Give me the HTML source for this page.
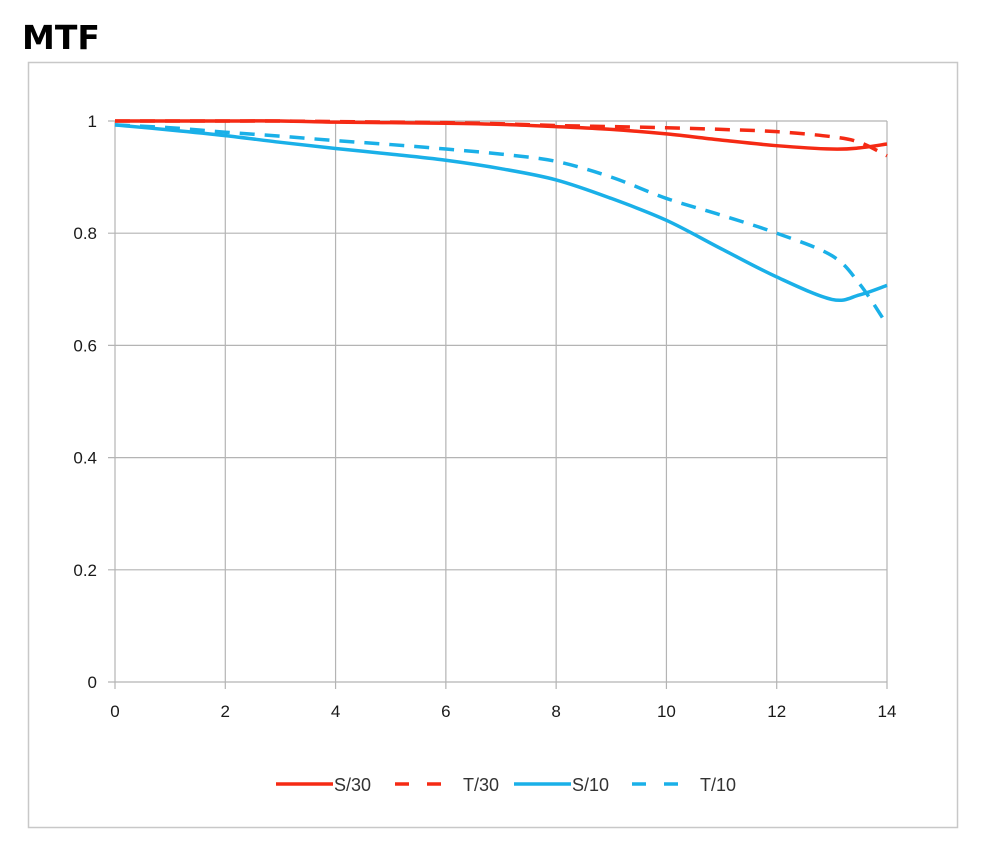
<!DOCTYPE html>
<html><head><meta charset="utf-8"><style>
body{margin:0;background:#fff;width:1000px;height:860px;overflow:hidden;font-family:"Liberation Sans",sans-serif}
</style></head><body>
<svg width="1000" height="860">
<text x="22" y="49" font-size="33" font-weight="bold" font-family="'DejaVu Sans',sans-serif" fill="#000">MTF</text>
<rect x="28.5" y="62.5" width="929" height="765" fill="#fff" stroke="#c8c8c8" stroke-width="1.5"/>
<g id="grid"></g><g id="series"></g><g id="legend"></g>
</svg>
<script>
const xTicks=[0,2,4,6,8,10,12,14];
const yTicks=[0,0.2,0.4,0.6,0.8,1];
const yTickLabels=["0","0.2","0.4","0.6","0.8","1"];
const xs=[0,1,2,3,4,5,6,7,8,9,10,11,12,13,13.5,14];
const s30=[1,1,1,1,0.998,0.997,0.996,0.994,0.99,0.985,0.977,0.966,0.956,0.95,0.952,0.959];
const t30=[1,1,1,1,0.999,0.998,0.997,0.995,0.992,0.99,0.988,0.985,0.981,0.972,0.962,0.938];
const s10=[0.993,0.984,0.974,0.962,0.951,0.941,0.93,0.915,0.895,0.862,0.823,0.772,0.722,0.682,0.69,0.707];
const t10=[0.993,0.988,0.98,0.973,0.965,0.958,0.95,0.941,0.928,0.9,0.862,0.832,0.8,0.76,0.71,0.637];
const NS="http://www.w3.org/2000/svg";
const X=v=>115+v*(772/14), Y=v=>682-v*561;
function mk(t,a,p){const e=document.createElementNS(NS,t);for(const k in a)e.setAttribute(k,a[k]);p.appendChild(e);return e;}
const g=document.getElementById('grid');
yTicks.forEach((t,i)=>{
 const l=mk('line',{x1:108,x2:887,y1:Y(t),y2:Y(t),stroke:'#b4b4b4','stroke-width':1.2},g);
 
 
 const tx=mk('text',{x:97,y:Y(t)+6,'text-anchor':'end','font-size':17,fill:'#1a1a1a'},g);
 tx.textContent=yTickLabels[i];
 
 
});
xTicks.forEach(t=>{
 const l=mk('line',{x1:X(t),x2:X(t),y1:121,y2:689,stroke:'#b4b4b4','stroke-width':1.2},g);
 
 
 const tx=mk('text',{x:X(t),y:717,'text-anchor':'middle','font-size':17,fill:'#1a1a1a'},g);
 tx.textContent=String(t);
 
 
});
function path(ys){
 const p=xs.map((x,i)=>[X(x),Y(ys[i])]);
 let d='M'+p[0][0]+','+p[0][1];
 for(let i=0;i<p.length-1;i++){
  const p0=p[Math.max(i-1,0)],p1=p[i],p2=p[i+1],p3=p[Math.min(i+2,p.length-1)];
  const c1=[p1[0]+(p2[0]-p0[0])/6,p1[1]+(p2[1]-p0[1])/6],c2=[p2[0]-(p3[0]-p1[0])/6,p2[1]-(p3[1]-p1[1])/6];
  d+=`C${c1[0]},${c1[1]} ${c2[0]},${c2[1]} ${p2[0]},${p2[1]}`;
 }
 return d;
}
const sg=document.getElementById('series');
const defs=[[t10,'#1ab0e8','15 10','series-t10'],[s10,'#1ab0e8','','series-s10'],[t30,'#f52a14','15 10','series-t30'],[s30,'#f52a14','','series-s30']];
defs.forEach(d=>{
 const e=mk('path',{d:path(d[0]),fill:'none',stroke:d[1],'stroke-width':3.5,'stroke-dasharray':d[2]||'none'},sg);
 
 
});
const lg=document.getElementById('legend');
const le=[[276,'#f52a14','','S/30','legend-s30'],[395,'#f52a14','14 18','T/30','legend-t30'],[514,'#1ab0e8','','S/10','legend-s10'],[632,'#1ab0e8','14 18','T/10','legend-t10']];
le.forEach(l=>{
 const gg=mk('g',{},lg);
 
 
 mk('line',{x1:l[0],x2:l[0]+57,y1:784,y2:784,stroke:l[1],'stroke-width':3.5,'stroke-dasharray':l[2]||'none'},gg);
 const t=mk('text',{x:l[0]+(l[2]?68:58),y:791,'font-size':18,fill:'#333'},gg);
 t.textContent=l[3];
});
</script>
</body></html>
